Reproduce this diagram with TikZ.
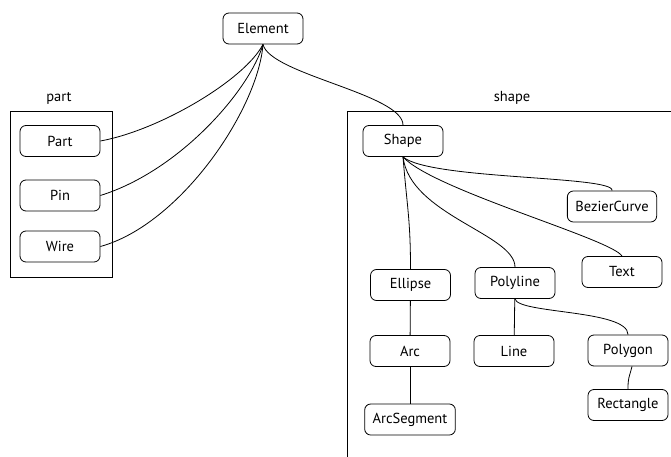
\documentclass[tikz,border=0pt]{standalone}
\usepackage{fontspec}
\setmainfont{PT Sans}
\begin{document}
\begin{tikzpicture}[
    x=1pt, y=-1pt,
    classbox/.style={rectangle, rounded corners=6pt, draw=black, line width=0.8pt, minimum width=80pt, minimum height=31pt, inner xsep=8pt, font=\fontsize{14.5}{16}\selectfont},
    clusterbox/.style={draw=black, line width=0.8pt},
    clusterlabel/.style={font=\fontsize{14.5}{16}\selectfont},
    edge/.style={draw=black, line width=0.8pt}
]
    \clip (0,0) rectangle (671,457);

    % part package
    \draw[clusterbox] (10.7,111) rectangle (112,277);
    \node[clusterlabel] (partlbl) at (59,98) {part};
    \node[classbox] (part) at (60,141) {Part};
    \node[classbox] (pin) at (60,195.5) {Pin};
    \node[classbox] (wire) at (60,246.5) {Wire};

    % shape package
    \draw[clusterbox] (347,111) rectangle (700,480);
    \node[clusterlabel] (shapelbl) at (512,98) {shape};
    \node[classbox] (shape) at (403,141) {Shape};
    \node[classbox] (bezier) at (612,206.5) {BezierCurve};
    \node[classbox] (text) at (622,272) {Text};
    \node[classbox] (ellipse) at (410.5,285) {Ellipse};
    \node[classbox] (polyline) at (515,283) {Polyline};
    \node[classbox] (arc) at (410,351) {Arc};
    \node[classbox] (line) at (514,351) {Line};
    \node[classbox] (polygon) at (628,350.5) {Polygon};
    \node[classbox] (arcseg) at (410,419.5) {ArcSegment};
    \node[classbox] (rect) at (628,405) {Rectangle};

    % root
    \node[classbox] (element) at (263,28.5) {Element};

    % inheritance edges
    \draw[edge] (element.south) .. controls +(-18,35) and +(60,-11) .. (part.east);
    \draw[edge] (element.south) .. controls +(-13,45) and +(80,-25) .. (pin.east);
    \draw[edge] (element.south) .. controls +(-5,65) and +(80,-22) .. (wire.east);
    \draw[edge] (element.south) .. controls +(7,30) and +(0,-31) .. (shape.north);

    \draw[edge] (shape.south) .. controls +(27,23) and +(3,-15) .. (bezier.north);
    \draw[edge] (shape.south) .. controls +(30,33) and +(-10,-17) .. (text.north);
    \draw[edge] (shape.south) .. controls +(7,58) and +(0,-33) .. (polyline.north);
    \draw[edge] (shape.south) .. controls +(4,50) and +(0,-50) .. (ellipse.north);

    \draw[edge] (ellipse) -- (arc);
    \draw[edge] (arc) -- (arcseg);
    \draw[edge] (polyline) -- (line);
    \draw[edge] (polyline.south) .. controls +(3,15) and +(0,-25) .. (polygon.north);
    \draw[edge] ([xshift=4pt]polygon.south) .. controls +(-3,12) and +(0,-12) .. (rect.north);
\end{tikzpicture}
\end{document}
